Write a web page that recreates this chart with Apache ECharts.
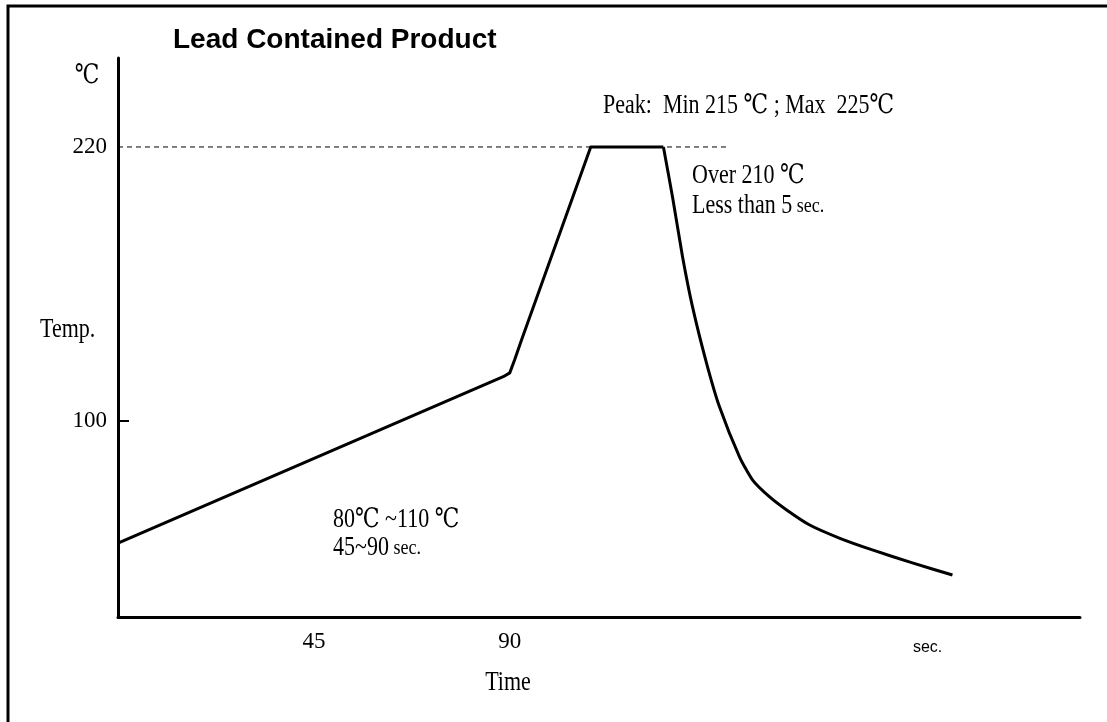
<!DOCTYPE html>
<html>
<head>
<meta charset="utf-8">
<script src="https://cdn.jsdelivr.net/npm/echarts@6/dist/echarts.min.js"></script>
<style>
html,body{margin:0;padding:0;background:#fff;}
#chart{width:1107px;height:722px;}
</style>
</head>
<body>
<div id="chart"></div>
<script>
// ---- data ----
// ramp / soak / rise / peak plateau
const rampTime = [0, 88.5, 90, 91.1, 92.7, 108.6, 125.3];
const rampTemp = [46.4, 119.3, 121, 126.6, 135.4, 220, 220];
// cooling curve
const coolTime = [125.3, 127.4, 129.7, 132.0, 135.2, 138.2, 142.8, 145.8, 149.7, 153.6, 158.9, 165.7, 173.3, 182.5, 191.7];
const coolTemp = [220, 198, 171.8, 149.8, 125.3, 106.0, 84.1, 74.0, 66.6, 60.9, 54.3, 48.6, 43.4, 37.7, 32.4];
const peakLineTime = [0, 139.8];
const peakLineTemp = [220, 220];
const xTickValues = [45, 90, 186];
const xTickLabels = ['45', '90', 'sec.'];
const yTickValues = [100, 220];
const yTickMarks = [100];

const ramp = rampTime.map((t, i) => [t, rampTemp[i]]);
const cool = coolTime.map((t, i) => [t, coolTemp[i]]);
const peakLine = peakLineTime.map((t, i) => [t, peakLineTemp[i]]);

const serif = '"Liberation Serif", "DejaVu Serif", serif';
const tall = 1.22;
function note(x, y, text, align) {
  return { type: 'text', x: x, y: y, scaleY: tall,
    style: { text: text, font: '22px ' + serif, fill: '#000', align: align || 'left', verticalAlign: 'middle',
      rich: { s: { font: '18px ' + serif, fill: '#000' } } } };
}
const chart = echarts.init(document.getElementById('chart'));
chart.setOption({
  backgroundColor: '#fff',
  animation: false,
  grid: { left: 118, right: 27, top: 58, bottom: 105 },
  xAxis: {
    type: 'value', min: 0, max: 221,
    splitLine: { show: false },
    axisLine: { show: true, onZero: false, lineStyle: { color: '#000', width: 3 } },
    axisTick: { show: false },
    axisLabel: {
      customValues: xTickValues,
      margin: 13,
      color: '#000',
      fontFamily: serif,
      fontSize: 23,
      formatter: v => {
        const i = xTickValues.indexOf(v);
        const s = i >= 0 ? xTickLabels[i] : '';
        return s === 'sec.' ? '{s|' + s + '}' : s;
      },
      rich: { s: { fontFamily: '"Liberation Sans", Arial, sans-serif', fontSize: 16, color: '#000', padding: [10, 0, 0, 0] } }
    }
  },
  yAxis: {
    type: 'value', min: 14, max: 259,
    splitLine: { show: false },
    axisLine: { show: true, onZero: false, lineStyle: { color: '#000', width: 3 } },
    axisTick: { show: true, inside: true, length: 11, customValues: yTickMarks, lineStyle: { color: '#000', width: 2 } },
    axisLabel: { customValues: yTickValues, margin: 11, color: '#000', fontFamily: serif, fontSize: 23 }
  },
  series: [
    {
      type: 'line', data: peakLine, symbol: 'none', z: 1,
      lineStyle: { color: '#000', width: 1, type: [5, 4] }
    },
    {
      type: 'line', data: ramp, symbol: 'none', z: 2,
      lineStyle: { color: '#000', width: 3, join: 'round' }
    },
    {
      type: 'line', data: cool, symbol: 'none', z: 2, smooth: 0.2,
      lineStyle: { color: '#000', width: 3, join: 'round' }
    }
  ],
  graphic: [
    { type: 'rect', shape: { x: 8, y: 6, width: 1300, height: 900 }, style: { fill: 'none', stroke: '#000', lineWidth: 3 }, silent: true },
    { type: 'text', x: 173, y: 40, style: { text: 'Lead Contained Product', font: 'bold 28px "Liberation Sans", Arial, sans-serif', fill: '#000', verticalAlign: 'middle' } },
    note(87, 76, '℃', 'center'),
    note(40, 330, 'Temp.'),
    note(508, 683, 'Time', 'center'),
    note(603, 106, 'Peak:  Min 215 ℃ ; Max  225℃'),
    note(692, 176, 'Over 210 ℃'),
    note(692, 206, 'Less than 5{s| sec.}'),
    note(333, 520, '80℃ ~110 ℃'),
    note(333, 548, '45~90{s| sec.}')
  ]
});
</script>
</body>
</html>
